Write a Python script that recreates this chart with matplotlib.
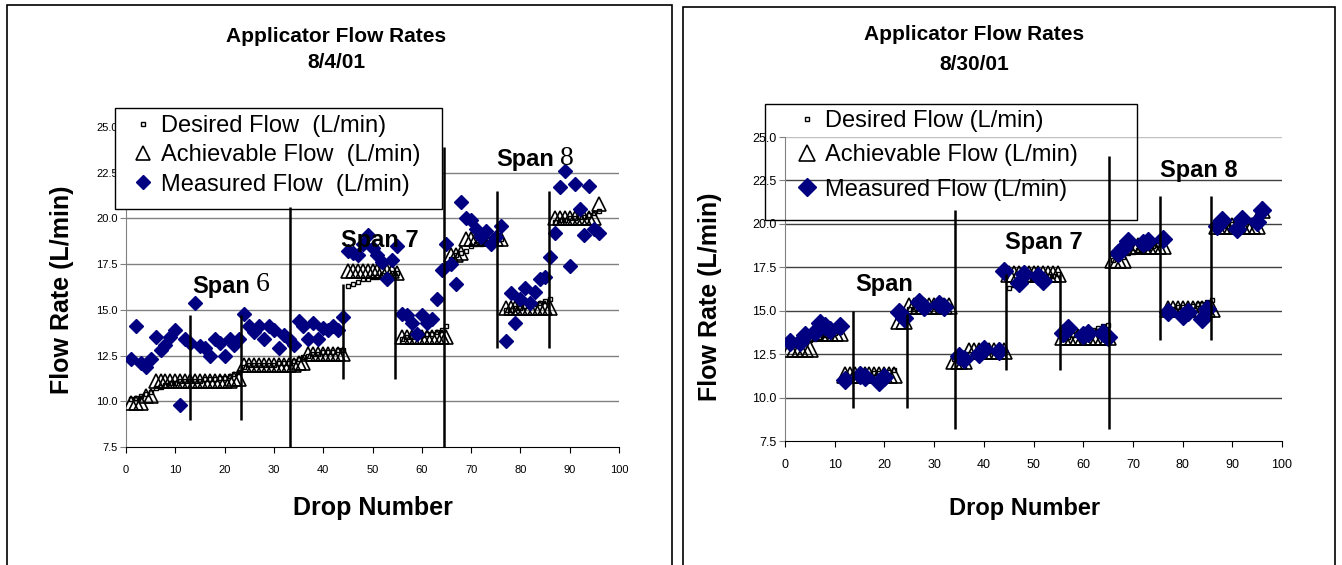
import matplotlib
matplotlib.use("Agg")
import matplotlib.pyplot as plt
from matplotlib.patches import Rectangle

# drop numbers along the pipe (same for both dates)
drops = list(range(1, 97))

# ---- 8/4/01 ----
left_desired = [
    10.1, 10.2, 10.3, 10.4, 10.5, 10.7, 10.8, 10.9, 11.0, 11.0,
    11.1, 11.1, 11.1, 11.1, 11.1, 11.2, 11.2, 11.2, 11.3, 11.3,
    11.4, 11.5, 11.6, 11.9, 12.0, 12.0, 12.0, 12.0, 12.0, 12.0,
    12.1, 12.1, 12.1, 12.2, 12.3, 12.4, 12.5, 12.6, 12.6, 12.7,
    12.7, 12.7, 12.8, 12.8, 16.3, 16.4, 16.5, 16.7, 16.7, 16.8,
    16.8, 16.9, 16.9, 17.0, 17.0, 13.4, 13.5, 13.5, 13.6, 13.6,
    13.7, 13.7, 13.8, 13.9, 14.1, 17.8, 18.0, 18.1, 18.2, 18.5,
    18.6, 18.6, 18.7, 18.7, 18.8, 18.9, 15.0, 15.0, 15.1, 15.1,
    15.2, 15.2, 15.3, 15.4, 15.5, 15.6, 19.8, 19.9, 19.9, 20.0,
    20.0, 20.1, 20.1, 20.2, 20.3, 20.4]
left_achievable = [
    9.9, 9.9, 9.9, 10.3, 10.3, 11.1, 11.1, 11.1, 11.1, 11.1,
    11.1, 11.1, 11.1, 11.1, 11.1, 11.1, 11.1, 11.1, 11.1, 11.1,
    11.1, 11.2, 11.2, 12.0, 12.0, 12.0, 12.0, 12.0, 12.0, 12.0,
    12.0, 12.0, 12.0, 12.0, 12.1, 12.1, 12.6, 12.6, 12.6, 12.6,
    12.6, 12.6, 12.6, 12.6, 17.1, 17.1, 17.1, 17.1, 17.1, 17.1,
    17.1, 17.1, 17.1, 17.1, 17.0, 13.5, 13.5, 13.5, 13.5, 13.5,
    13.5, 13.5, 13.5, 13.5, 13.5, 18.0, 18.0, 18.1, 18.9, 18.9,
    18.9, 18.9, 18.9, 18.9, 18.9, 18.9, 15.1, 15.1, 15.1, 15.1,
    15.1, 15.1, 15.1, 15.1, 15.1, 15.1, 20.0, 20.0, 20.0, 20.0,
    20.0, 20.0, 20.0, 20.0, 20.0, 20.8]
left_measured = [
    12.3, 14.1, 12.1, 11.9, 12.3, 13.5, 12.8, 13.1, 13.5, 13.9,
    9.8, 13.4, 13.2, 15.4, 13.0, 12.9, 12.5, 13.4, 13.2, 12.5,
    13.4, 13.1, 13.4, 14.8, 14.1, 13.8, 14.1, 13.4, 14.1, 13.9,
    12.9, 13.6, 13.4, 13.1, 14.4, 14.1, 13.4, 14.3, 13.4, 14.0,
    13.9, 14.1, 13.9, 14.6, 18.2, 18.1, 18.0, 18.6, 19.1, 18.4,
    18.0, 17.6, 16.7, 17.7, 18.5, 14.8, 14.7, 14.3, 13.7, 14.7,
    14.3, 14.5, 15.6, 17.2, 18.6, 17.5, 16.4, 20.9, 20.0, 19.9,
    19.4, 19.0, 19.3, 18.6, 19.0, 19.6, 13.3, 15.9, 14.3, 15.6,
    16.2, 15.4, 16.0, 16.7, 16.8, 17.9, 19.2, 21.7, 22.6, 17.4,
    21.9, 20.5, 19.1, 21.8, 19.4, 19.2]
# span divider lines: drop position, bottom, top
left_div_x = [12.9, 23.4, 33.2, 44.1, 54.6, 64.6, 75.3, 85.9]
left_div_lo = [9.0, 9.0, 7.5, 11.2, 11.2, 7.5, 12.9, 12.9]
left_div_hi = [14.7, 14.7, 20.6, 16.4, 17.0, 23.9, 21.5, 21.5]

# ---- 8/30/01 ----
right_desired = [
    13.0, 13.0, 13.1, 13.2, 13.3, 13.4, 13.5, 13.6, 13.7, 13.7,
    13.8, 11.1, 11.2, 11.2, 11.2, 11.3, 11.3, 11.4, 11.4, 11.5,
    11.5, 11.6, 14.8, 14.9, 15.1, 15.1, 15.2, 15.2, 15.2, 15.3,
    15.3, 15.3, 15.3, 12.2, 12.3, 12.4, 12.5, 12.5, 12.6, 12.6,
    12.7, 12.7, 12.8, 12.8, 16.3, 16.5, 16.6, 16.7, 16.8, 16.8,
    16.9, 16.9, 17.0, 17.0, 17.1, 13.4, 13.5, 13.6, 13.7, 13.8,
    13.9, 13.9, 14.0, 14.1, 14.2, 17.9, 18.0, 18.1, 18.3, 18.4,
    18.5, 18.5, 18.6, 18.7, 18.8, 18.9, 15.1, 15.1, 15.2, 15.2,
    15.3, 15.3, 15.4, 15.4, 15.5, 15.6, 19.8, 19.9, 19.9, 20.0,
    20.0, 20.1, 20.1, 20.2, 20.3, 20.5]
right_achievable = [
    12.8, 12.8, 12.8, 12.8, 12.8, 13.7, 13.7, 13.7, 13.7, 13.7,
    13.7, 11.3, 11.3, 11.3, 11.3, 11.3, 11.3, 11.3, 11.3, 11.3,
    11.3, 11.3, 14.4, 14.4, 15.3, 15.3, 15.3, 15.3, 15.3, 15.3,
    15.3, 15.3, 15.3, 12.1, 12.1, 12.1, 12.7, 12.7, 12.7, 12.7,
    12.7, 12.7, 12.7, 12.7, 17.1, 17.1, 17.1, 17.1, 17.1, 17.1,
    17.1, 17.1, 17.1, 17.1, 17.1, 13.5, 13.5, 13.5, 13.5, 13.5,
    13.5, 13.5, 13.5, 13.5, 13.5, 17.9, 17.9, 17.9, 18.7, 18.7,
    18.7, 18.7, 18.7, 18.7, 18.7, 18.7, 15.1, 15.1, 15.1, 15.1,
    15.1, 15.1, 15.1, 15.1, 15.1, 15.1, 19.9, 19.9, 19.9, 19.9,
    19.9, 19.9, 19.9, 19.9, 19.9, 20.8]
# only some drops were measured on 8/30
right_meas_drop = [1, 3, 4, 6, 7, 8, 9, 11,
                   12, 15, 16, 19, 20,
                   23, 24, 27, 28, 31, 32,
                   35, 36, 39, 40, 43,
                   44, 47, 48, 51, 52,
                   56, 57, 60, 61, 64, 65,
                   67, 68, 69, 72, 73, 76,
                   77, 80, 81, 84, 85,
                   87, 88, 91, 92, 95, 96]
right_meas_flow = [13.2, 13.2, 13.6, 13.8, 14.3, 14.1, 13.9, 14.1,
                   11.0, 11.3, 11.2, 10.9, 11.2,
                   14.9, 14.6, 15.5, 15.2, 15.4, 15.2,
                   12.4, 12.2, 12.5, 12.8, 12.7,
                   17.3, 16.6, 17.1, 17.0, 16.7,
                   13.7, 14.0, 13.6, 13.7, 13.7, 13.5,
                   18.3, 18.6, 19.0, 18.9, 19.0, 19.1,
                   14.9, 14.7, 14.9, 14.5, 15.1,
                   19.9, 20.2, 19.7, 20.3, 20.1, 20.8]
right_div_x = [13.7, 24.5, 34.3, 44.5, 55.3, 65.1, 75.4, 85.7]
right_div_lo = [9.4, 9.4, 8.2, 11.6, 11.6, 8.2, 13.3, 13.3]
right_div_hi = [15.0, 14.8, 20.8, 17.1, 17.1, 23.9, 21.6, 21.6]

y_ticks = [7.5, 10.0, 12.5, 15.0, 17.5, 20.0, 22.5, 25.0]
x_ticks = [0, 10, 20, 30, 40, 50, 60, 70, 80, 90, 100]

W, H = 1342, 565
NAVY = "#000080"
plt.rcParams["font.family"] = ["Liberation Sans", "DejaVu Sans"]


def fx(px):
    return px / W


def fy(py):
    return 1 - py / H


def make_axes(fig, left, right, top, bottom, tick_size, grid_color, grid_lines):
    ax = fig.add_axes([fx(left), fy(bottom), fx(right) - fx(left), fy(top) - fy(bottom)])
    ax.set_xlim(0, 100)
    ax.set_ylim(7.5, 25)
    ax.set_xticks(x_ticks)
    ax.set_yticks(y_ticks)
    ax.set_yticklabels(["%.1f" % v for v in y_ticks])
    ax.tick_params(direction="out", length=4, labelsize=tick_size, pad=9)
    ax.tick_params(axis="y", pad=2, colors="#808080", labelcolor="black")
    for s in ["top", "right"]:
        ax.spines[s].set_visible(False)
    ax.spines["left"].set_color("#808080")
    ax.spines["bottom"].set_color("black")
    # horizontal grid lines (Excel style)
    for v, c in zip(grid_lines, grid_color):
        ax.axhline(v, color=c, lw=1, zorder=1)
    return ax


def plot_series(ax, desired, achievable, mx, my, labels, tri_ms, dia_ms):
    ax.plot(drops, desired, ls="none", marker="s", ms=3.5, mfc="white",
            mec="black", mew=1, zorder=3, label=labels[0])
    ax.plot(drops, achievable, ls="none", marker="^", ms=tri_ms, mfc="none",
            mec="black", mew=1.2, zorder=3, label=labels[1])
    ax.plot(mx, my, ls="none", marker="D", ms=dia_ms, mfc=NAVY,
            mec=NAVY, zorder=4, label=labels[2])


def add_legend(ax, box, first_row, text_left, spacing, fill):
    # legend box drawn by hand so its size matches the original
    x0, y0, x1, y1 = box
    ax.add_patch(Rectangle((fx(x0), fy(y1)), fx(x1) - fx(x0), fy(y0) - fy(y1),
                           transform=fig.transFigure, facecolor=fill,
                           edgecolor="black", lw=1, zorder=9, clip_on=False))
    leg = ax.legend(loc="upper left", bbox_to_anchor=(fx(text_left), fy(first_row)),
                    bbox_transform=fig.transFigure, frameon=False, fontsize=17,
                    borderpad=0, labelspacing=spacing, handletextpad=0.2,
                    handlelength=1.1, borderaxespad=0)
    leg.set_zorder(10)
    return leg


fig = plt.figure(figsize=(W / 100, H / 100), dpi=100)

# panel frames (run off the bottom of the picture)
fig.patches.append(Rectangle((fx(7), fy(620)), fx(672) - fx(7), fy(5) - fy(620),
                             transform=fig.transFigure, fill=False, ec="black", lw=1.2))
fig.patches.append(Rectangle((fx(683), fy(620)), fx(1335) - fx(683), fy(7) - fy(620),
                             transform=fig.transFigure, fill=False, ec="black", lw=1.2))

# ---------- left chart ----------
ax1 = make_axes(fig, 126, 619, 127, 447, 8, ["#808080"] * 6,
                [10.0, 12.5, 15.0, 17.5, 20.0, 22.5])
plot_series(ax1, left_desired, left_achievable, drops, left_measured,
            ["Desired Flow  (L/min)", "Achievable Flow  (L/min)", "Measured Flow  (L/min)"],
            10, 7.5)
ax1.vlines(left_div_x, left_div_lo, left_div_hi, color="black", lw=1.8, zorder=11)

t6 = ax1.text(13.5, 16.3, "Span", fontsize=17, fontweight="bold", va="center", zorder=6)
ax1.annotate("6", xy=(1, 0.55), xycoords=t6, xytext=(4, 0), textcoords="offset points",
             fontsize=20, family=["Liberation Serif", "DejaVu Serif"], va="center", zorder=6)
ax1.text(51.5, 18.8, "Span 7", fontsize=17, fontweight="bold", ha="center", va="center", zorder=6)
t8 = ax1.text(75.2, 23.2, "Span", fontsize=17, fontweight="bold", va="center", zorder=6)
ax1.annotate("8", xy=(1, 0.55), xycoords=t8, xytext=(4, 0), textcoords="offset points",
             fontsize=20, family=["Liberation Serif", "DejaVu Serif"], va="center", zorder=6)

add_legend(ax1, (115, 108, 442, 209), 115, 130, 0.31, "white")

fig.text(fx(336), fy(36), "Applicator Flow Rates", ha="center", va="center",
         fontsize=15, fontweight="bold")
fig.text(fx(336), fy(63), "8/4/01", ha="center", va="center", fontsize=15, fontweight="bold")
fig.text(fx(62), fy(290), "Flow Rate (L/min)", ha="center", va="center", rotation=90,
         fontsize=18, fontweight="bold")
fig.text(fx(373), fy(508), "Drop Number", ha="center", va="center", fontsize=18, fontweight="bold")

# ---------- right chart ----------
ax2 = make_axes(fig, 785, 1282, 137, 441, 9, ["#c0c0c0"] + ["#404040"] * 6,
                [25.0, 10.0, 12.5, 15.0, 17.5, 20.0, 22.5])
plot_series(ax2, right_desired, right_achievable, right_meas_drop, right_meas_flow,
            ["Desired Flow (L/min)", "Achievable Flow (L/min)", "Measured Flow (L/min)"],
            11.5, 9.5)
ax2.vlines(right_div_x, right_div_lo, right_div_hi, color="black", lw=1.8, zorder=11)

ax2.text(20.0, 16.5, "Span", fontsize=17, fontweight="bold", ha="center", va="center", zorder=6)
ax2.text(52.0, 18.9, "Span 7", fontsize=17, fontweight="bold", ha="center", va="center", zorder=6)
ax2.text(83.3, 23.1, "Span 8", fontsize=17, fontweight="bold", ha="center", va="center", zorder=6)

# the 8/30 legend is see-through: grid lines and a divider show inside it
add_legend(ax2, (765, 104, 1137, 220), 110, 794, 0.52, "none")

fig.text(fx(974), fy(34), "Applicator Flow Rates", ha="center", va="center",
         fontsize=15, fontweight="bold")
fig.text(fx(974), fy(65), "8/30/01", ha="center", va="center", fontsize=15, fontweight="bold")
fig.text(fx(710), fy(297), "Flow Rate (L/min)", ha="center", va="center", rotation=90,
         fontsize=18, fontweight="bold")
fig.text(fx(1025), fy(508), "Drop Number", ha="center", va="center", fontsize=17, fontweight="bold")

fig.savefig("out.png", dpi=100)
